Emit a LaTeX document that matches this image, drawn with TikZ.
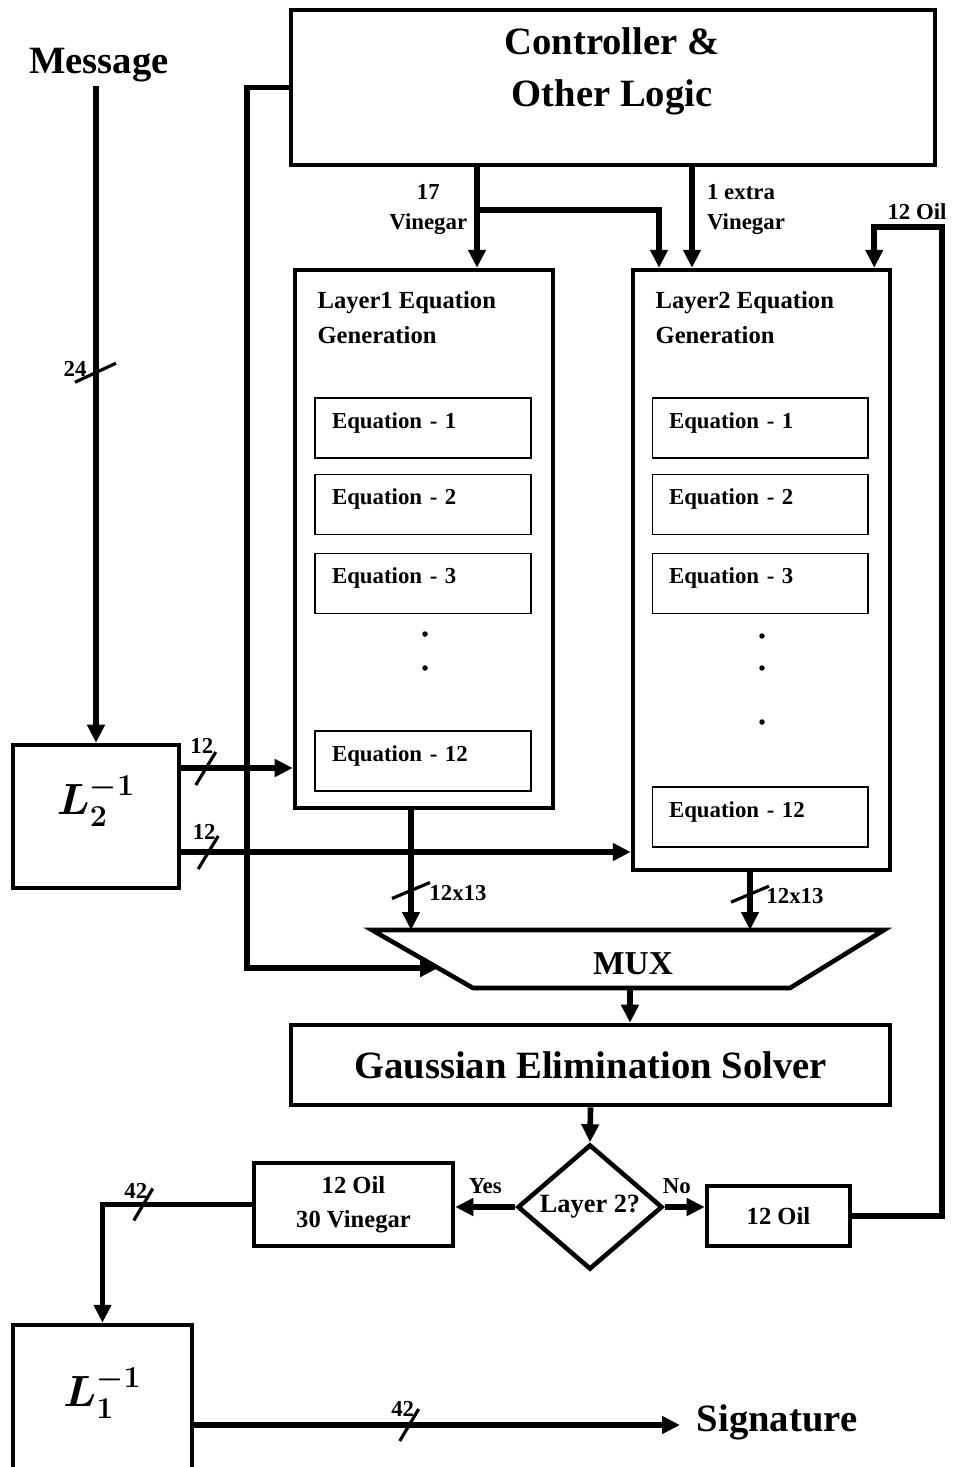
\documentclass[tikz,border=0pt]{standalone}
\usepackage{amsmath,bm}
\usepackage{fontspec}
\setmainfont{Liberation Serif}
\usetikzlibrary{arrows.meta,calc,positioning,shapes.geometric}

\begin{document}
\begin{tikzpicture}[
      x=0.02cm, y=-0.02cm,
      caja/.style={rectangle, draw, line width=2.6pt, align=center, inner sep=2pt},
      cajaeq/.style={rectangle, draw, line width=0.6pt, minimum width=4.32cm,
        minimum height=1.2cm, text width=3.64cm, inner xsep=0.34cm,
        text height=0.3cm, text depth=0.3cm, font=\fontsize{13}{15}\selectfont\bfseries},
      rombo/.style={diamond, draw, line width=2.6pt, shape aspect=1.16, inner sep=0pt,
        minimum width=2.9cm, minimum height=2.5cm, font=\fontsize{15}{17}\selectfont\bfseries},
      flecha/.style={-{Triangle[length=0.36cm, width=0.34cm]}, line width=3.2pt},
      barra/.style={line width=1.8pt},
      etiqueta/.style={font=\fontsize{13}{17.5}\selectfont\bfseries, inner sep=1pt, align=center},
      subtitulo/.style={font=\fontsize{14}{20}\selectfont\bfseries, inner sep=2pt, align=left},
      titulo/.style={font=\fontsize{22}{29.5}\selectfont\bfseries, inner sep=2pt, align=center},
      punto/.style={circle, fill, inner sep=0pt, minimum size=0.11cm},
    ]
    \useasboundingbox (0,0) rectangle (953,1467);

    % bloques principales
    \node[titulo] (msg) at (99,65) {Message};
    \node[caja, minimum width=12.88cm, minimum height=3.1cm] (ctrl) at (613,87.5) {};
    \node[titulo] (ctrltxt) at (612,71) {Controller \&\\Other Logic};
    \node[caja, minimum width=5.16cm, minimum height=10.76cm] (capa1) at (424,539) {};
    \node[caja, minimum width=5.14cm, minimum height=12cm] (capa2) at (761.5,570) {};
    \node[subtitulo, anchor=north west] (tit1) at ($(capa1.north west)+(21,20)$) {Layer1 Equation\\Generation};
    \node[subtitulo, anchor=north west] (tit2) at ($(capa2.north west)+(21,20)$) {Layer2 Equation\\Generation};

    % ecuaciones de cada capa
    \node[cajaeq] (eq11)  at (423,428)   {Equation - 1};
    \node[cajaeq] (eq12)  at (423,504.5) {Equation - 2};
    \node[cajaeq] (eq13)  at (423,583.5) {Equation - 3};
    \node[punto]  (p11)   at (425,634) {};
    \node[punto]  (p12)   at (425,668) {};
    \node[cajaeq] (eq112) at (423,761)   {Equation - 12};
    \node[cajaeq] (eq21)  at (760,428)   {Equation - 1};
    \node[cajaeq] (eq22)  at (760,504.5) {Equation - 2};
    \node[cajaeq] (eq23)  at (760,583.5) {Equation - 3};
    \node[punto]  (p21)   at (762,636) {};
    \node[punto]  (p22)   at (762,668) {};
    \node[punto]  (p23)   at (762,722) {};
    \node[cajaeq] (eq212) at (760,817)   {Equation - 12};

    \node[caja, minimum width=3.32cm, minimum height=2.86cm, text depth=0.85cm,
      font=\fontsize{25}{27}\selectfont] (l2) at (96,816.5) {$\bm{L_2^{-1}}$};

    % multiplexor
    \coordinate (muxtl) at (372,930);
    \coordinate (muxtr) at (884,930);
    \coordinate (muxbr) at (790,988);
    \coordinate (muxbl) at (473,988);
    \draw[line width=2.6pt] (muxtl) -- (muxtr) -- (muxbr) -- (muxbl) -- cycle;
    \node[font=\fontsize{19}{21}\selectfont\bfseries] (mux) at (633,964) {MUX};
    \coordinate (muxin) at ($(muxtl)!0.655!(muxbl)$);
    \coordinate (muxout) at (630,988);

    \node[caja, titulo, minimum width=11.98cm, minimum height=1.6cm] (gauss) at (590.5,1065) {Gaussian Elimination Solver};
    \node[rombo] (dec) at (590,1207) {Layer 2?};
    \node[caja, font=\fontsize{14}{19}\selectfont\bfseries, minimum width=3.98cm, minimum height=1.66cm] (res) at (353.5,1204.5) {12 Oil\\30 Vinegar};
    \node[caja, font=\fontsize{14}{19}\selectfont\bfseries, minimum width=2.86cm, minimum height=1.2cm] (oil) at (778.5,1216) {12 Oil};
    \node[caja, minimum width=3.58cm, minimum height=3.3cm, text depth=0.8cm,
      font=\fontsize{25}{27}\selectfont] (l1) at (102.5,1407.5) {$\bm{L_1^{-1}}$};
    \node[titulo, anchor=west] (firma) at (693,1422) {Signature};

    % conexiones
    \draw[flecha] (msg.south -| l2.north) -- coordinate[pos=0.436] (b24) (l2.north);
    \draw[flecha] (ctrl.west) -- ++(-42,0) |- (muxin);

    \coordinate (v17) at ([xshift=-2.72cm]ctrl.south);
    \coordinate (vx) at ([xshift=1.58cm]ctrl.south);
    \draw[flecha] (v17) -- node[etiqueta, left=3pt, pos=0.42] (lbl17) {17\\Vinegar} (v17 |- capa1.north);
    \draw[flecha] ($(v17)+(0,43)$) -| ([xshift=-2.05cm]capa2.north);
    \draw[flecha] (vx) -- node[etiqueta, right=6pt, pos=0.42, align=left] (lblx) {1 extra\\Vinegar} (vx |- capa2.north);

    \coordinate (sal1) at ([yshift=0.97cm]l2.east);
    \coordinate (sal2) at ([yshift=-0.71cm]l2.east);
    \draw[flecha] (sal1) -- coordinate[pos=0.22] (b12a) (sal1 -| capa1.west);
    \draw[flecha] (sal2) -- coordinate[pos=0.06] (b12b) (sal2 -| capa2.west);

    \coordinate (s1) at ([xshift=-0.26cm]capa1.south);
    \coordinate (s2) at ([xshift=-0.23cm]capa2.south);
    \draw[flecha] (s1) -- coordinate[pos=0.67] (b13a) (s1 |- muxtl);
    \draw[flecha] (s2) -- coordinate[pos=0.38] (b13b) (s2 |- muxtl);

    \draw[flecha] (muxout) -- (muxout |- gauss.north);
    \draw[flecha] (gauss.south) -- (dec.north);
    \draw[flecha] (dec.west) -- node[etiqueta, above=5pt] (lblyes) {Yes} (dec.west -| res.east);
    \draw[flecha] (dec.east) -- node[etiqueta, above=5pt, pos=0.3] (lblno) {No} (dec.east -| oil.west);
    \draw[flecha] (oil.east) -- ++(90,0) |- ($(capa2.north east)+(-18,-41)$) -- ($(capa2.north east)+(-18,0)$);
    \node[etiqueta] (lbloil) at (917,212) {12 Oil};

    \coordinate (sal3) at ([yshift=-0.35cm]l1.east);
    \draw[flecha] (res.west) -| coordinate[pos=0.365] (b42a) (l1.north);
    \draw[flecha, shorten >=0.26cm] (sal3) -- coordinate[pos=0.43] (b42b) (sal3 -| firma.west);

    % marcas de bus
    \draw[barra] ($(b24)+(-21,10)$) -- ($(b24)+(20,-9)$);
    \node[etiqueta] (n24) at ($(b24)+(-21,-3)$) {24};
    \draw[barra] ($(b12a)+(-10,17)$) -- ($(b12a)+(10,-16)$);
    \node[etiqueta] (n12a) at ($(b12a)+(-4,-22)$) {12};
    \draw[barra] ($(b12b)+(-10,17)$) -- ($(b12b)+(10,-16)$);
    \node[etiqueta] (n12b) at ($(b12b)+(-4,-20)$) {12};
    \draw[barra] ($(b13a)+(-19,8)$) -- ($(b13a)+(19,-8)$);
    \node[etiqueta] (n13a) at ($(b13a)+(47,3)$) {12x13};
    \draw[barra] ($(b13b)+(-19,8)$) -- ($(b13b)+(19,-8)$);
    \node[etiqueta] (n13b) at ($(b13b)+(45,2)$) {12x13};
    \draw[barra] ($(b42a)+(-9,16)$) -- ($(b42a)+(10,-16)$);
    \node[etiqueta] (n42a) at ($(b42a)+(-7,-14)$) {42};
    \draw[barra] ($(b42b)+(-9,16)$) -- ($(b42b)+(10,-16)$);
    \node[etiqueta] (n42b) at ($(b42b)+(-6,-16)$) {42};

  \end{tikzpicture}
\end{document}
